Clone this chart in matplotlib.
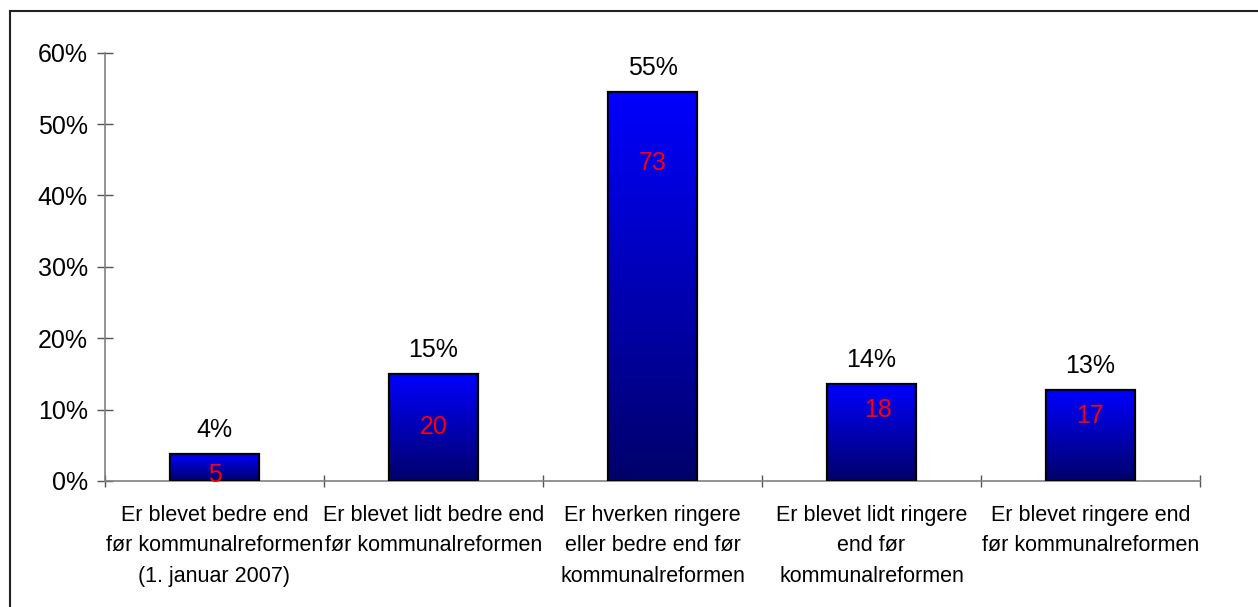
import matplotlib
matplotlib.use('Agg')
import matplotlib.pyplot as plt
import matplotlib.lines as mlines
import numpy as np
from matplotlib.colors import LinearSegmentedColormap

plt.rcParams['font.family'] = ['Liberation Sans', 'DejaVu Sans']

categories = [
    'Er blevet bedre end\nfør kommunalreformen\n(1. januar 2007)',
    'Er blevet lidt bedre end\nfør kommunalreformen',
    'Er hverken ringere\neller bedre end før\nkommunalreformen',
    'Er blevet lidt ringere\nend før\nkommunalreformen',
    'Er blevet ringere end\nfør kommunalreformen',
]
shares = [3.8, 15.0, 54.5, 13.6, 12.8]   # percent
counts = [5, 20, 73, 18, 17]
pct_labels = ['4%', '15%', '55%', '14%', '13%']

# where the red count labels sit (points below bar top, points right)
count_dy = [15, 38, 51, 19, 19]
count_dx = [0, 0, 0, 5, 0]

fig = plt.figure(figsize=(12.58, 6.07), dpi=100)
ax = fig.add_axes([105 / 1258, 126 / 607, 1095 / 1258, (481 - 52.7) / 607])

x = np.arange(len(categories))
bars = ax.bar(x, shares, width=0.41, color='none', edgecolor='black', linewidth=1.6, zorder=3)

# vertical gradient: bright blue on top, navy at the bottom
cmap = LinearSegmentedColormap.from_list('bl', ['#00006a', '#0000ff'])
grad = np.linspace(0, 1, 256).reshape(-1, 1)
for b in bars:
    x0, y0 = b.get_x(), b.get_y()
    im = ax.imshow(grad, cmap=cmap, origin='lower', aspect='auto',
                   extent=[x0, x0 + b.get_width(), y0, y0 + b.get_height()], zorder=2)
    im.set_clip_path(b)

ax.set_xlim(-0.5, 4.5)
ax.set_ylim(0, 60)

for i, b in enumerate(bars):
    top = b.get_height()
    ax.annotate(pct_labels[i], (b.get_x() + b.get_width() / 2, top), xytext=(0, 12),
                textcoords='offset points', ha='center', va='baseline', fontsize=18, color='black')
    ax.annotate(str(counts[i]), (b.get_x() + b.get_width() / 2, top), xytext=(count_dx[i], -count_dy[i]),
                textcoords='offset points', ha='center', va='center', fontsize=18, color='red', zorder=4)

ax.set_yticks(range(0, 61, 10))
ax.set_yticklabels([f'{v}%' for v in range(0, 61, 10)], fontsize=18)
ax.tick_params(axis='y', direction='inout', length=11.5, width=1, color='#555555', pad=6.5)

ax.set_xticks(x)
ax.set_xticklabels(categories, fontsize=15.5, linespacing=1.6)
ax.tick_params(axis='x', which='major', length=0, pad=17)
ax.set_xticks(np.arange(-0.5, 5, 1), minor=True)
ax.tick_params(axis='x', which='minor', direction='inout', length=8.6, width=1, color='#555555')

for s in ['top', 'right']:
    ax.spines[s].set_visible(False)
for s in ['left', 'bottom']:
    ax.spines[s].set_color('#808080')
    ax.spines[s].set_linewidth(1.2)

# outer frame (only top and left show in the crop)
fig.add_artist(mlines.Line2D([9.5 / 1258, 9.5 / 1258], [0, 1 - 10.5 / 607], color='#222222', lw=1.5))
fig.add_artist(mlines.Line2D([9.5 / 1258, 1], [1 - 10.5 / 607, 1 - 10.5 / 607], color='#222222', lw=1.5))

fig.savefig('out.png', dpi=100)
